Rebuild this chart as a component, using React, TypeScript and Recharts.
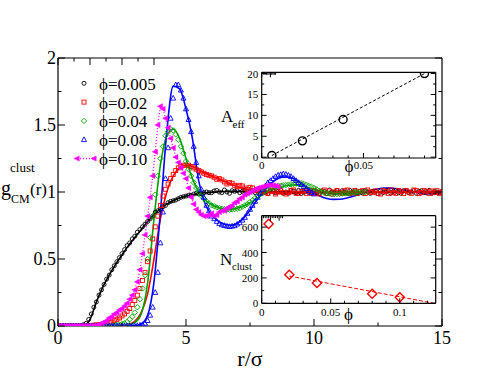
import { ComposedChart, Legend, Line, Scatter, XAxis, YAxis } from "recharts";

const SERIF = "'Liberation Serif', 'Times New Roman', serif";

// theory curves, r/sigma in steps of 0.25
const rLine = [
	0, 0.25, 0.5, 0.75, 1, 1.25, 1.5, 1.75, 2, 2.25, 2.5, 2.75, 3, 3.25, 3.5,
	3.75, 4, 4.25, 4.5, 4.75, 5, 5.25, 5.5, 5.75, 6, 6.25, 6.5, 6.75, 7, 7.25,
	7.5, 7.75, 8, 8.25, 8.5, 8.75, 9, 9.25, 9.5, 9.75, 10, 10.25, 10.5, 10.75,
	11, 11.25, 11.5, 11.75, 12, 12.25, 12.5, 12.75, 13, 13.25, 13.5, 13.75, 14,
	14.25, 14.5, 14.75, 15,
];
const gLine005 = [
	0, 0, 0, 0, 0.005, 0.05, 0.18, 0.29, 0.38, 0.46, 0.53, 0.6, 0.66, 0.72, 0.78,
	0.83, 0.875, 0.91, 0.935, 0.955, 0.97, 0.98, 0.988, 0.994, 0.998, 1.002,
	1.004, 1.005, 1.005, 1.004, 1.003, 1.002, 1.001, 1, 1, 1, 1, 1, 1, 1, 1, 1,
	1, 1, 1, 1, 1, 1, 1, 1, 1, 1, 1, 1, 1, 1, 1, 1, 1, 1, 1,
];
const gLine02 = [
	0, 0, 0, 0, 0, 0, 0, 0, 0, 0.002, 0.005, 0.012, 0.035, 0.1, 0.24, 0.5, 0.8,
	1.0, 1.12, 1.18, 1.2, 1.19, 1.165, 1.14, 1.12, 1.1, 1.08, 1.06, 1.04, 1.025,
	1.015, 1.005, 1.0, 0.995, 0.992, 0.99, 0.99, 0.99, 0.992, 0.995, 0.997, 1,
	1, 1, 1, 1, 1, 1, 1, 1, 1, 1, 1, 1, 1, 1, 1, 1, 1, 1, 1,
];
const gLine04 = [
	0, 0, 0, 0, 0, 0, 0, 0, 0, 0, 0.002, 0.008, 0.025, 0.09, 0.32, 0.8, 1.2,
	1.42, 1.47, 1.4, 1.25, 1.1, 1.0, 0.94, 0.905, 0.885, 0.872, 0.87, 0.878,
	0.895, 0.92, 0.95, 0.98, 1.005, 1.025, 1.04, 1.05, 1.052, 1.045, 1.032,
	1.018, 1.005, 0.995, 0.988, 0.985, 0.985, 0.987, 0.99, 0.995, 0.998, 1.002,
	1.005, 1.006, 1.005, 1.003, 1.0, 0.998, 0.997, 0.997, 0.998, 0.999,
];
const gLine08 = [
	0, 0, 0, 0, 0, 0, 0, 0, 0, 0, 0, 0, 0.002, 0.015, 0.08, 0.33, 0.85, 1.45,
	1.79, 1.77, 1.62, 1.4, 1.08, 0.91, 0.83, 0.785, 0.76, 0.752, 0.765, 0.805,
	0.865, 0.935, 1.0, 1.05, 1.09, 1.11, 1.11, 1.095, 1.065, 1.03, 0.995, 0.968,
	0.952, 0.945, 0.946, 0.953, 0.966, 0.982, 0.998, 1.012, 1.023, 1.029, 1.029,
	1.024, 1.015, 1.005, 0.996, 0.99, 0.987, 0.988, 0.991,
];

// simulation points, r/sigma in steps of 0.1 (one row per unit of r)
const rData = [
	0, 0.1, 0.2, 0.3, 0.4, 0.5, 0.6, 0.7, 0.8, 0.9,
	1, 1.1, 1.2, 1.3, 1.4, 1.5, 1.6, 1.7, 1.8, 1.9,
	2, 2.1, 2.2, 2.3, 2.4, 2.5, 2.6, 2.7, 2.8, 2.9,
	3, 3.1, 3.2, 3.3, 3.4, 3.5, 3.6, 3.7, 3.8, 3.9,
	4, 4.1, 4.2, 4.3, 4.4, 4.5, 4.6, 4.7, 4.8, 4.9,
	5, 5.1, 5.2, 5.3, 5.4, 5.5, 5.6, 5.7, 5.8, 5.9,
	6, 6.1, 6.2, 6.3, 6.4, 6.5, 6.6, 6.7, 6.8, 6.9,
	7, 7.1, 7.2, 7.3, 7.4, 7.5, 7.6, 7.7, 7.8, 7.9,
	8, 8.1, 8.2, 8.3, 8.4, 8.5, 8.6, 8.7, 8.8, 8.9,
	9, 9.1, 9.2, 9.3, 9.4, 9.5, 9.6, 9.7, 9.8, 9.9,
	10, 10.1, 10.2, 10.3, 10.4, 10.5, 10.6, 10.7, 10.8, 10.9,
	11, 11.1, 11.2, 11.3, 11.4, 11.5, 11.6, 11.7, 11.8, 11.9,
	12, 12.1, 12.2, 12.3, 12.4, 12.5, 12.6, 12.7, 12.8, 12.9,
	13, 13.1, 13.2, 13.3, 13.4, 13.5, 13.6, 13.7, 13.8, 13.9,
	14, 14.1, 14.2, 14.3, 14.4, 14.5, 14.6, 14.7, 14.8, 14.9,
	15,
];
const gData005 = [
	0, 0, 0, 0, 0, 0, 0, 0, 0, 0,
	0.01, 0.02, 0.05, 0.09, 0.14, 0.18, 0.23, 0.27, 0.31, 0.35,
	0.38, 0.42, 0.45, 0.48, 0.51, 0.54, 0.57, 0.6, 0.62, 0.65,
	0.67, 0.7, 0.72, 0.74, 0.76, 0.78, 0.8, 0.82, 0.85, 0.86,
	0.87, 0.89, 0.9, 0.92, 0.93, 0.935, 0.94, 0.95, 0.96, 0.965,
	0.97, 0.975, 0.975, 0.985, 0.99, 0.985, 0.99, 0.995, 1.0, 0.995,
	0.995, 1.008, 1.012, 1.0, 0.995, 1.015, 1.0, 0.99, 1.01, 1.005,
	1.01, 0.995, 1.005, 1.012, 0.99, 1.0, 1.012, 0.995, 1.008, 0.99,
	1.008, 1.0, 0.988, 1.01, 1.012, 0.995, 1.005, 1.015, 0.99, 1.0,
	0.99, 1.01, 1.005, 0.995, 1.012, 0.988, 1.0, 1.012, 0.995, 1.0,
	1.012, 0.995, 0.99, 1.008, 1.005, 0.988, 1.015, 1.0, 0.995, 1.01,
	0.995, 1.01, 1.0, 0.99, 1.012, 0.995, 1.008, 0.99, 1.005, 0.992,
	1.012, 1.0, 0.99, 1.005, 1.006, 0.988, 1.01, 0.995, 1.0, 1.012,
	0.99, 1.005, 1.012, 0.995, 0.99, 1.01, 1.008, 0.995, 1.0, 1.01,
	0.99, 1.005, 1.01, 0.995, 0.995, 1.012, 0.99, 1.005, 1.0, 0.995,
	1.005,
];
const gData02 = [
	0, 0, 0, 0, 0, 0, 0, 0, 0, 0,
	0, 0, 0.003, 0.004, 0.006, 0.008, 0.01, 0.012, 0.015, 0.02,
	0.025, 0.03, 0.04, 0.05, 0.06, 0.075, 0.09, 0.11, 0.13, 0.16,
	0.19, 0.23, 0.28, 0.34, 0.4, 0.48, 0.56, 0.65, 0.74, 0.82,
	0.9, 0.97, 1.02, 1.06, 1.1, 1.13, 1.16, 1.18, 1.19, 1.2,
	1.2, 1.2, 1.19, 1.18, 1.17, 1.16, 1.15, 1.14, 1.13, 1.125,
	1.12, 1.11, 1.095, 1.1, 1.09, 1.075, 1.06, 1.07, 1.065, 1.05,
	1.04, 1.05, 1.045, 1.03, 1.02, 1.035, 1.03, 1.01, 1.02, 1.005,
	1.015, 0.995, 0.99, 1.008, 1.01, 0.985, 1.0, 1.01, 0.995, 0.985,
	0.995, 1.012, 1.015, 0.99, 0.988, 1.005, 1.01, 0.99, 1.005, 0.99,
	1.012, 0.99, 0.985, 1.005, 1.015, 0.99, 1.008, 0.985, 1.0, 1.012,
	0.995, 0.99, 1.01, 1.015, 0.988, 0.995, 1.012, 0.99, 1.005, 1.01,
	0.988, 1.015, 1.0, 0.995, 1.008, 0.99, 0.985, 1.012, 1.005, 0.99,
	1.015, 0.995, 0.99, 1.01, 1.005, 0.988, 1.012, 1.0, 0.99, 1.015,
	1.01, 0.988, 0.995, 1.012, 1.005, 0.99, 1.008, 0.995, 1.01, 0.99,
	1.0,
];
const gData04 = [
	0, 0, 0, 0, 0, 0, 0, 0, 0, 0,
	0, 0, 0, 0, 0, 0, 0, 0, 0, 0,
	0, 0.003, 0.005, 0.008, 0.01, 0.015, 0.02, 0.03, 0.05, 0.07,
	0.1, 0.14, 0.2, 0.28, 0.38, 0.5, 0.66, 0.82, 0.98, 1.12,
	1.25, 1.34, 1.42, 1.45, 1.47, 1.46, 1.43, 1.39, 1.34, 1.29,
	1.23, 1.17, 1.12, 1.07, 1.03, 1.0, 0.97, 0.95, 0.93, 0.915,
	0.9, 0.895, 0.885, 0.88, 0.875, 0.872, 0.87, 0.868, 0.87, 0.872,
	0.875, 0.88, 0.89, 0.9, 0.91, 0.925, 0.94, 0.955, 0.97, 0.985,
	0.995, 1.01, 1.02, 1.03, 1.035, 1.04, 1.045, 1.048, 1.05, 1.052,
	1.055, 1.058, 1.06, 1.062, 1.065, 1.065, 1.06, 1.055, 1.045, 1.04,
	1.03, 1.02, 1.01, 1.0, 0.995, 0.99, 0.99, 0.985, 0.985, 0.985,
	0.985, 0.988, 0.99, 0.99, 0.99, 0.995, 0.995, 0.998, 1.0, 1.0,
	1.0, null, null, null, null, null, null, null, null, null,
	null, null, null, null, null, null, null, null, null, null,
	null, null, null, null, null, null, null, null, null, null,
	null,
];
const gData08 = [
	0, 0, 0, 0, 0, 0, 0, 0, 0, 0,
	0, 0, 0, 0, 0, 0, 0, 0, 0, 0,
	0, 0, 0, 0, 0, 0, 0, 0, 0, 0,
	0, 0.003, 0.005, 0.01, 0.02, 0.04, 0.08, 0.14, 0.25, 0.4,
	0.62, 0.85, 1.1, 1.33, 1.55, 1.7, 1.8, 1.8, 1.76, 1.7,
	1.62, 1.54, 1.45, 1.34, 1.22, 1.12, 1.02, 0.96, 0.9, 0.86,
	0.82, 0.8, 0.78, 0.765, 0.755, 0.75, 0.745, 0.742, 0.745, 0.748,
	0.76, 0.77, 0.79, 0.81, 0.84, 0.87, 0.9, 0.93, 0.96, 0.99,
	1.02, 1.045, 1.07, 1.085, 1.1, 1.115, 1.125, 1.13, 1.135, 1.132,
	1.125, 1.115, 1.1, 1.085, 1.07, 1.055, 1.04, 1.025, 1.01, 0.995,
	0.985, null, null, null, null, null, null, null, null, null,
	null, null, null, null, null, null, null, null, null, null,
	null, null, null, null, null, null, null, null, null, null,
	null, null, null, null, null, null, null, null, null, null,
	null, null, null, null, null, null, null, null, null, null,
	null,
];
const gData10 = [
	0, 0, 0, 0, 0, 0, 0, 0, 0, 0,
	0, 0, 0, 0, 0, 0.005, 0.01, 0.02, 0.03, 0.04,
	0.06, 0.07, 0.09, 0.1, 0.12, 0.13, 0.15, 0.17, 0.2, 0.23,
	0.27, 0.33, 0.42, 0.54, 0.68, 0.82, 0.96, 1.12, 1.3, 1.5,
	1.64, 1.62, 1.55, 1.48, 1.4, 1.33, 1.26, 1.22, 1.18, 1.14,
	1.1, 1.03, 0.96, 0.91, 0.87, 0.85, 0.83, 0.82, 0.82, 0.83,
	0.84, 0.82, 0.83, 0.85, 0.86, 0.86, 0.88, 0.89, 0.9, 0.92,
	0.93, 0.95, 0.96, 0.98, 0.99, 1.0, 1.01, 1.02, 1.03, 1.035,
	1.04, 1.045, 1.05, 1.05, 1.05, 1.045, 1.04, null, null, null,
	null, null, null, null, null, null, null, null, null, null,
	null, null, null, null, null, null, null, null, null, null,
	null, null, null, null, null, null, null, null, null, null,
	null, null, null, null, null, null, null, null, null, null,
	null, null, null, null, null, null, null, null, null, null,
	null, null, null, null, null, null, null, null, null, null,
	null,
];

const phiLabels = ["ϕ=0.005", "ϕ=0.02", "ϕ=0.04", "ϕ=0.08", "ϕ=0.10"];
const seriesColors = ["#000000", "#ff0000", "#00a000", "#0000ff", "#ff00ff"];
const seriesMarkers = ["circle", "square", "diamond", "triangle", "left"];

// inset 1: effective area vs phi
const aeffPhi = [0.005, 0.02, 0.04, 0.08];
const aeffValues = [0.4, 3.9, 9.0, 20.0];
const aeffFitPhi = [0.005, 0.08];
const aeffFitValues = [0.4, 20.0];

// inset 2: number of clusters vs phi
const nclustPhi = [0.005, 0.02, 0.04, 0.08, 0.1];
const nclustValues = [625, 225, 160, 75, 47];
const nclustFitPhi = [0.02, 0.125];
const nclustFitValues = [215, 0];

// ticks
const mainXTicks = [0, 2.5, 5, 7.5, 10, 12.5, 15];
const mainXMajor = [0, 5, 10, 15];
const mainYTicks = [0, 0.25, 0.5, 0.75, 1, 1.25, 1.5, 1.75, 2];
const mainYMajor = [0, 0.5, 1, 1.5, 2];
const aeffXTicks = [0, 0.0125, 0.02, 0.0275, 0.035, 0.0425, 0.05, 0.0575, 0.065, 0.0725, 0.08];
const aeffXMajor = [0, 0.05];
const aeffYTicks = [0, 2.5, 5, 7.5, 10, 12.5, 15, 17.5, 20];
const aeffYMajor = [0, 5, 10, 15, 20];
const nclustXTicks = [0, 0.01, 0.02, 0.03, 0.04, 0.05, 0.06, 0.07, 0.08, 0.09, 0.1, 0.11, 0.12];
const nclustXMajor = [0, 0.05, 0.1];
const nclustYTicks = [0, 100, 200, 300, 400, 500, 600];
const nclustYMajor = [0, 200, 400, 600];

const lineRows = rLine.map((r, i) => ({
	r,
	g005: gLine005[i],
	g02: gLine02[i],
	g04: gLine04[i],
	g08: gLine08[i],
}));
const lineKeys = ["g005", "g02", "g04", "g08"];

const pointRows = (values: (number | null)[]) =>
	rData
		.map((r, i) => ({ r, g: values[i] }))
		.filter((p) => p.g !== null && p.g !== undefined);
const pointSets = [gData005, gData02, gData04, gData08, gData10].map(pointRows);

const aeffRows = aeffPhi.map((phi, i) => ({ phi, v: aeffValues[i] }));
const aeffFitRows = aeffFitPhi.map((phi, i) => ({ phi, v: aeffFitValues[i] }));
const nclustRows = nclustPhi.map((phi, i) => ({ phi, v: nclustValues[i] }));
const nclustFitRows = nclustFitPhi.map((phi, i) => ({
	phi,
	v: nclustFitValues[i],
}));

type Side = "bottom" | "left" | "top" | "right";

/** 内向きの目盛り線（主/副）と主目盛りのラベルを描く */
function makeTick(
	side: Side,
	majors: number[],
	majorLen: number,
	minorLen: number,
	fontSize = 0,
	gap = 0,
) {
	return function AxisTick(props: any) {
		const { x, y, payload } = props;
		const v = Number(payload.value);
		const isMajor = majors.some((m) => Math.abs(m - v) < 1e-9);
		const len = isMajor ? majorLen : minorLen;
		const dx = side === "left" ? len : side === "right" ? -len : 0;
		const dy = side === "bottom" ? -len : side === "top" ? len : 0;
		let label = null;
		if (isMajor && fontSize > 0) {
			label =
				side === "bottom" ? (
					<text
						x={x}
						y={y + gap}
						textAnchor="middle"
						dominantBaseline="central"
						fontFamily={SERIF}
						fontSize={fontSize}
						fill="#000"
					>
						{String(v)}
					</text>
				) : (
					<text
						x={x - gap}
						y={y}
						textAnchor="end"
						dominantBaseline="central"
						fontFamily={SERIF}
						fontSize={fontSize}
						fill="#000"
					>
						{String(v)}
					</text>
				);
		}
		return (
			<g>
				<line x1={x} y1={y} x2={x + dx} y2={y + dy} stroke="#000" strokeWidth={1} />
				{label}
			</g>
		);
	};
}

const mainBottomTick = makeTick("bottom", mainXMajor, 7, 3.5, 18, 12);
const mainTopTick = makeTick("top", mainXMajor, 7, 3.5);
const mainLeftTick = makeTick("left", mainYMajor, 7, 3.5, 18, 2);
const mainRightTick = makeTick("right", mainYMajor, 7, 3.5);
const aeffBottomTick = makeTick("bottom", aeffXMajor, 5, 2.5, 11, 7);
const aeffTopTick = makeTick("top", aeffXMajor, 5, 2.5);
const aeffLeftTick = makeTick("left", aeffYMajor, 5, 2.5, 11, 3.5);
const aeffRightTick = makeTick("right", aeffYMajor, 5, 2.5);
const nclustBottomTick = makeTick("bottom", nclustXMajor, 5, 2.5, 11, 9);
const nclustTopTick = makeTick("top", nclustXMajor, 5, 2.5);
const nclustLeftTick = makeTick("left", nclustYMajor, 5, 2.5, 11, 3.5);
const nclustRightTick = makeTick("right", nclustYMajor, 5, 2.5);

const frame = { stroke: "#000", strokeWidth: 1.2 };

function Marker({ kind, cx, cy, color }: { kind: string; cx: number; cy: number; color: string }) {
	if (cx == null || cy == null) return null;
	switch (kind) {
		case "circle":
			return <circle cx={cx} cy={cy} r={2} fill="none" stroke={color} strokeWidth={0.9} />;
		case "square":
			return (
				<rect x={cx - 2} y={cy - 2} width={4} height={4} fill="none" stroke={color} strokeWidth={0.9} />
			);
		case "diamond":
			return (
				<path
					d={`M${cx},${cy - 2.7}L${cx + 2.7},${cy}L${cx},${cy + 2.7}L${cx - 2.7},${cy}Z`}
					fill="none"
					stroke={color}
					strokeWidth={0.9}
				/>
			);
		case "triangle":
			return (
				<path
					d={`M${cx},${cy - 2.8}L${cx + 2.5},${cy + 1.9}L${cx - 2.5},${cy + 1.9}Z`}
					fill="none"
					stroke={color}
					strokeWidth={0.9}
				/>
			);
		default:
			return (
				<path
					d={`M${cx - 3},${cy}L${cx + 2.2},${cy - 2.6}L${cx + 2.2},${cy + 2.6}Z`}
					fill={color}
					stroke={color}
					strokeWidth={0.5}
				/>
			);
	}
}

function PhiLegend() {
	return (
		<svg width={200} height={180} style={{ display: "block", overflow: "visible" }}>
			{phiLabels.map((label, i) => {
				const cy = 83.3 + i * 18.8;
				return (
					<g key={label}>
						{i === 4 ? (
							<>
								<line x1={77} y1={cy} x2={93} y2={cy} stroke={seriesColors[i]} strokeWidth={1.4} strokeDasharray="1 2" />
								<Marker kind="left" cx={77} cy={cy} color={seriesColors[i]} />
								<Marker kind="left" cx={94} cy={cy} color={seriesColors[i]} />
							</>
						) : (
							<Marker kind={seriesMarkers[i]} cx={84} cy={cy} color={seriesColors[i]} />
						)}
						<text x={99} y={cy + 6.5} fontFamily={SERIF} fontSize={17} fill="#000">
							{label}
						</text>
					</g>
				);
			})}
		</svg>
	);
}

function MainXTitle() {
	return (
		<text x={250} y={366} textAnchor="middle" fontFamily={SERIF} fontSize={22} fill="#000">
			r/σ
		</text>
	);
}

function MainYTitle() {
	return (
		<g fontFamily={SERIF} fill="#000">
			<text x={1} y={195} fontSize={20}>g</text>
			<text x={10} y={172} fontSize={13}>clust</text>
			<text x={11} y={203} fontSize={12}>CM</text>
			<text x={30} y={195} fontSize={17}>(r)</text>
		</g>
	);
}

function MainChart() {
	return (
		<ComposedChart
			width={498}
			height={385}
			data={lineRows}
			margin={{ top: 58, right: 56, bottom: 0, left: 0 }}
		>
			<XAxis
				dataKey="r"
				type="number"
				domain={[0, 15]}
				ticks={mainXTicks}
				interval={0}
				height={59}
				tickSize={0}
				tickMargin={0}
				tickLine={false}
				axisLine={frame}
				tick={mainBottomTick}
				allowDataOverflow
				label={<MainXTitle />}
			/>
			<XAxis
				xAxisId="top"
				orientation="top"
				mirror
				type="number"
				domain={[0, 15]}
				ticks={mainXTicks}
				interval={0}
				tickSize={0}
				tickMargin={0}
				tickLine={false}
				axisLine={frame}
				tick={mainTopTick}
				allowDataOverflow
			/>
			<YAxis
				type="number"
				domain={[0, 2]}
				ticks={mainYTicks}
				interval={0}
				width={58}
				tickSize={0}
				tickMargin={0}
				tickLine={false}
				axisLine={frame}
				tick={mainLeftTick}
				allowDataOverflow
				label={<MainYTitle />}
			/>
			<YAxis
				yAxisId="right"
				orientation="right"
				mirror
				type="number"
				domain={[0, 2]}
				ticks={mainYTicks}
				interval={0}
				tickSize={0}
				tickMargin={0}
				tickLine={false}
				axisLine={frame}
				tick={mainRightTick}
				allowDataOverflow
			/>
			<Legend
				layout="vertical"
				align="center"
				verticalAlign="middle"
				wrapperStyle={{ left: 0, top: 0, width: 200, height: 180 }}
				content={() => <PhiLegend />}
			/>

			{/* 各 phi: シミュレーション点 → 理論曲線 */}
			{pointSets.map((rows, i) => (
				<Scatter
					key={`pts-${i}`}
					data={rows}
					dataKey="g"
					isAnimationActive={false}
					shape={(p: any) => (
						<Marker kind={seriesMarkers[i]} cx={p.cx} cy={p.cy} color={seriesColors[i]} />
					)}
					line={
						i === 4
							? { stroke: seriesColors[i], strokeWidth: 1.3, strokeDasharray: "1 2" }
							: false
					}
					lineType="joint"
				/>
			))}
			{lineKeys.map((key, i) => (
				<Line
					key={key}
					type="monotone"
					dataKey={key}
					stroke={seriesColors[i]}
					strokeWidth={1.6}
					dot={false}
					activeDot={false}
					isAnimationActive={false}
				/>
			))}
		</ComposedChart>
	);
}

function AeffTitles() {
	return (
		<g fontFamily={SERIF} fill="#000">
			<text x={21} y={60} fontSize={17}>A</text>
			<text x={32.5} y={66} fontSize={11}>eff</text>
			<text x={149} y={110} fontSize={17} textAnchor="middle">ϕ</text>
		</g>
	);
}

function AeffInset() {
	return (
		<ComposedChart
			width={245}
			height={116}
			data={aeffFitRows}
			margin={{ top: 10.3, right: 9.3, bottom: 0, left: 0 }}
		>
			<XAxis dataKey="phi" type="number" domain={[0, 0.0855]} ticks={aeffXTicks} interval={0} height={20}
				tickSize={0} tickMargin={0} tickLine={false} axisLine={frame} tick={aeffBottomTick} allowDataOverflow />
			<XAxis xAxisId="top" orientation="top" mirror type="number" domain={[0, 0.0855]} ticks={aeffXTicks}
				interval={0} tickSize={0} tickMargin={0} tickLine={false} axisLine={frame} tick={aeffTopTick} allowDataOverflow />
			<YAxis type="number" domain={[-0.2, 20.3]} ticks={aeffYTicks} interval={0} width={61.7}
				tickSize={0} tickMargin={0} tickLine={false} axisLine={frame} tick={aeffLeftTick} allowDataOverflow
				label={<AeffTitles />} />
			<YAxis yAxisId="right" orientation="right" mirror type="number" domain={[-0.2, 20.3]} ticks={aeffYTicks}
				interval={0} tickSize={0} tickMargin={0} tickLine={false} axisLine={frame} tick={aeffRightTick} allowDataOverflow />
			<Line type="linear" dataKey="v" stroke="#000" strokeWidth={1} strokeDasharray="3 2" dot={false}
				activeDot={false} isAnimationActive={false} />
			<Scatter data={aeffRows} dataKey="v" isAnimationActive={false}
				shape={(p: any) => <circle cx={p.cx} cy={p.cy} r={4} fill="none" stroke="#000" strokeWidth={1.4} />} />
		</ComposedChart>
	);
}

function NclustTitles() {
	return (
		<g fontFamily={SERIF} fill="#000">
			<text x={20} y={60} fontSize={17}>N</text>
			<text x={32} y={65} fontSize={10.5}>clust</text>
			<text x={148.5} y={115} fontSize={17} textAnchor="middle">ϕ</text>
		</g>
	);
}

function NclustInset() {
	return (
		<ComposedChart
			width={245}
			height={125}
			data={nclustFitRows}
			margin={{ top: 10.7, right: 9.3, bottom: 0, left: 0 }}
		>
			<XAxis dataKey="phi" type="number" domain={[0, 0.126]} ticks={nclustXTicks} interval={0} height={26.7}
				tickSize={0} tickMargin={0} tickLine={false} axisLine={frame} tick={nclustBottomTick} allowDataOverflow />
			<XAxis xAxisId="top" orientation="top" mirror type="number" domain={[0, 0.126]} ticks={nclustXTicks}
				interval={0} tickSize={0} tickMargin={0} tickLine={false} axisLine={frame} tick={nclustTopTick} allowDataOverflow />
			<YAxis type="number" domain={[0, 690]} ticks={nclustYTicks} interval={0} width={61.7}
				tickSize={0} tickMargin={0} tickLine={false} axisLine={frame} tick={nclustLeftTick} allowDataOverflow
				label={<NclustTitles />} />
			<YAxis yAxisId="right" orientation="right" mirror type="number" domain={[0, 690]} ticks={nclustYTicks}
				interval={0} tickSize={0} tickMargin={0} tickLine={false} axisLine={frame} tick={nclustRightTick} allowDataOverflow />
			<Line type="linear" dataKey="v" stroke="#ff0000" strokeWidth={1} strokeDasharray="4 2" dot={false}
				activeDot={false} isAnimationActive={false} />
			<Scatter data={nclustRows} dataKey="v" isAnimationActive={false}
				shape={(p: any) => (
					<path
						d={`M${p.cx},${p.cy - 4.6}L${p.cx + 4.6},${p.cy}L${p.cx},${p.cy + 4.6}L${p.cx - 4.6},${p.cy}Z`}
						fill="none"
						stroke="#ff0000"
						strokeWidth={1.4}
					/>
				)} />
		</ComposedChart>
	);
}

export default function App() {
	return (
		<div style={{ position: "absolute", left: 0, top: 0, width: 498, height: 385, background: "#fff" }}>
			<MainChart />
			<div style={{ position: "absolute", left: 200, top: 62 }}>
				<AeffInset />
			</div>
			<div style={{ position: "absolute", left: 200, top: 205 }}>
				<NclustInset />
			</div>
		</div>
	);
}
